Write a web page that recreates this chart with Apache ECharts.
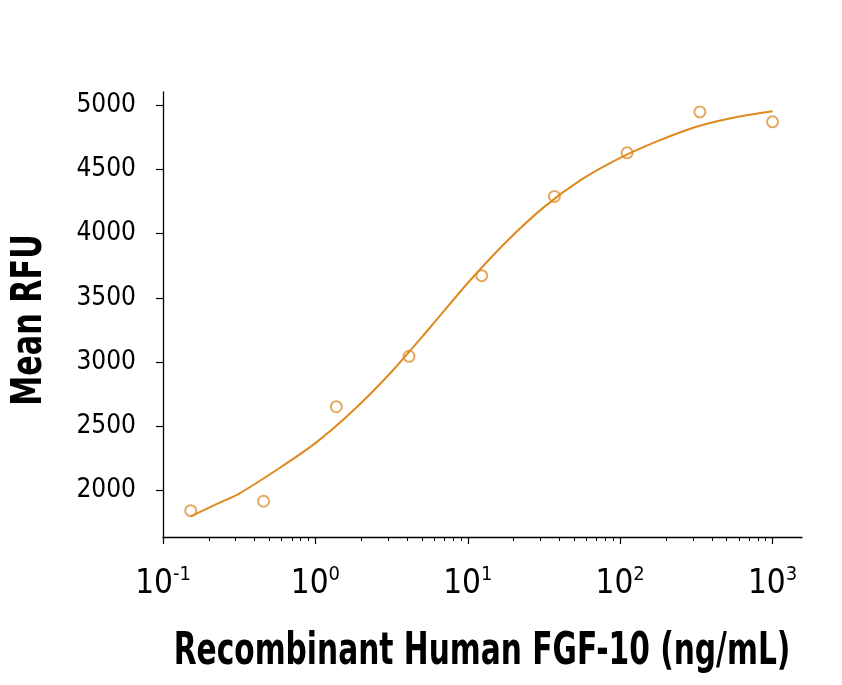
<!DOCTYPE html>
<html>
<head>
<meta charset="utf-8">
<title>FGF-10 dose response</title>
<script src="https://cdn.jsdelivr.net/npm/echarts@6/dist/echarts.min.js"></script>
<style>
  html, body { margin: 0; padding: 0; background: #fff; }
  #main { width: 842px; height: 685px; }
</style>
</head>
<body>
<div id="main"></div>
<script>
// concentrations (ng/mL), 3-fold dilution series
var conc = [0.152, 0.457, 1.372, 4.115, 12.35, 37.04, 111.1, 333.3, 1000];
// measured Mean RFU
var rfu = [1845, 1918, 2653, 3045, 3672, 4288, 4627, 4945, 4868];

// fitted curve
var curveX = [0.152, 0.219, 0.316, 0.562, 1.0, 1.778, 3.162, 5.623, 10, 17.78, 31.62, 56.23, 100, 177.8, 316.2, 562.3, 1000];
var curveY = [1800, 1890, 1978, 2165, 2370, 2625, 2925, 3265, 3615, 3932, 4205, 4422, 4588, 4720, 4830, 4902, 4950];

var majorTicks = [0.1, 1, 10, 100, 1000];
var minorMult = [2, 3, 4, 5, 6, 7, 8, 9];
var yTicks = [2000, 2500, 3000, 3500, 4000, 4500, 5000];

var xTitle = 'Recombinant Human FGF-10 (ng/mL)';
var yTitle = 'Mean RFU';

var minorTicks = [];
for (var i = 0; i < majorTicks.length - 1; i++) {
  for (var j = 0; j < minorMult.length; j++) {
    minorTicks.push(+(majorTicks[i] * minorMult[j]).toPrecision(3));
  }
}

var font = "'DejaVu Sans Condensed', 'Liberation Sans Narrow', sans-serif";
var orange = '#de8a1e';

var chart = echarts.init(document.getElementById('main'));

var option = {
  animation: false,
  grid: { left: 163, right: 40, top: 92, bottom: 148, outerBoundsMode: 'none', containLabel: false },
  xAxis: [{
    type: 'log',
    logBase: 10,
    min: 0.1,
    max: 1560,
    axisLine: { onZero: false, lineStyle: { color: '#000', width: 1.3 } },
    axisTick: { length: 7, customValues: majorTicks, lineStyle: { color: '#000', width: 1.2 } },
    splitLine: { show: false },
    axisLabel: {
      customValues: majorTicks,
      margin: 28,
      formatter: function (v) {
        var e = Math.round(Math.log(v) / Math.LN10);
        return '{b|10}{s|' + e + '}';
      },
      rich: {
        b: { fontFamily: font, fontSize: 33, color: '#000', lineHeight: 36, verticalAlign: 'bottom' },
        s: { fontFamily: font, fontSize: 20, color: '#000', lineHeight: 36, verticalAlign: 'top', padding: [0, 0, 13, 0] }
      }
    }
  }, {
    type: 'log',
    logBase: 10,
    min: 0.1,
    max: 1560,
    position: 'bottom',
    axisLine: { show: false },
    axisTick: { length: 4, customValues: minorTicks, lineStyle: { color: '#000', width: 1 } },
    axisLabel: { show: false },
    splitLine: { show: false }
  }],
  yAxis: {
    type: 'value',
    min: 1640,
    max: 5100,
    axisLine: { show: true, lineStyle: { color: '#000', width: 1.3 } },
    axisTick: { show: true, length: 7, customValues: yTicks, lineStyle: { color: '#000', width: 1.2 } },
    splitLine: { show: false },
    axisLabel: {
      customValues: yTicks,
      margin: 27,
      fontFamily: font,
      fontSize: 26,
      color: '#000',
      formatter: function (v) { return String(v); }
    }
  },
  // axis titles as condensed text
  graphic: [{
    type: 'text',
    x: 482,
    y: 653,
    scaleX: 0.75,
    style: {
      text: xTitle, x: 0, y: 0, align: 'center', verticalAlign: 'middle',
      fontFamily: font, fontSize: 44, fontWeight: 'bold', fill: '#000'
    }
  }, {
    type: 'text',
    x: 30,
    y: 320,
    rotation: Math.PI / 2,
    scaleX: 0.8,
    style: {
      text: yTitle, x: 0, y: 0, align: 'center', verticalAlign: 'middle',
      fontFamily: font, fontSize: 42, fontWeight: 'bold', fill: '#000'
    }
  }],
  series: [{
    type: 'line',
    data: curveX.map(function (x, k) { return [x, curveY[k]]; }),
    smooth: 0.3,
    showSymbol: false,
    lineStyle: { color: orange, width: 2 },
    z: 3
  }, {
    type: 'scatter',
    data: conc.map(function (x, k) { return [x, rfu[k]]; }),
    symbol: 'emptyCircle',
    symbolSize: 11,
    itemStyle: { color: '#dc943a', borderColor: '#dc943a', borderWidth: 1 },
    z: 2
  }]
};

chart.setOption(option);
</script>
</body>
</html>
